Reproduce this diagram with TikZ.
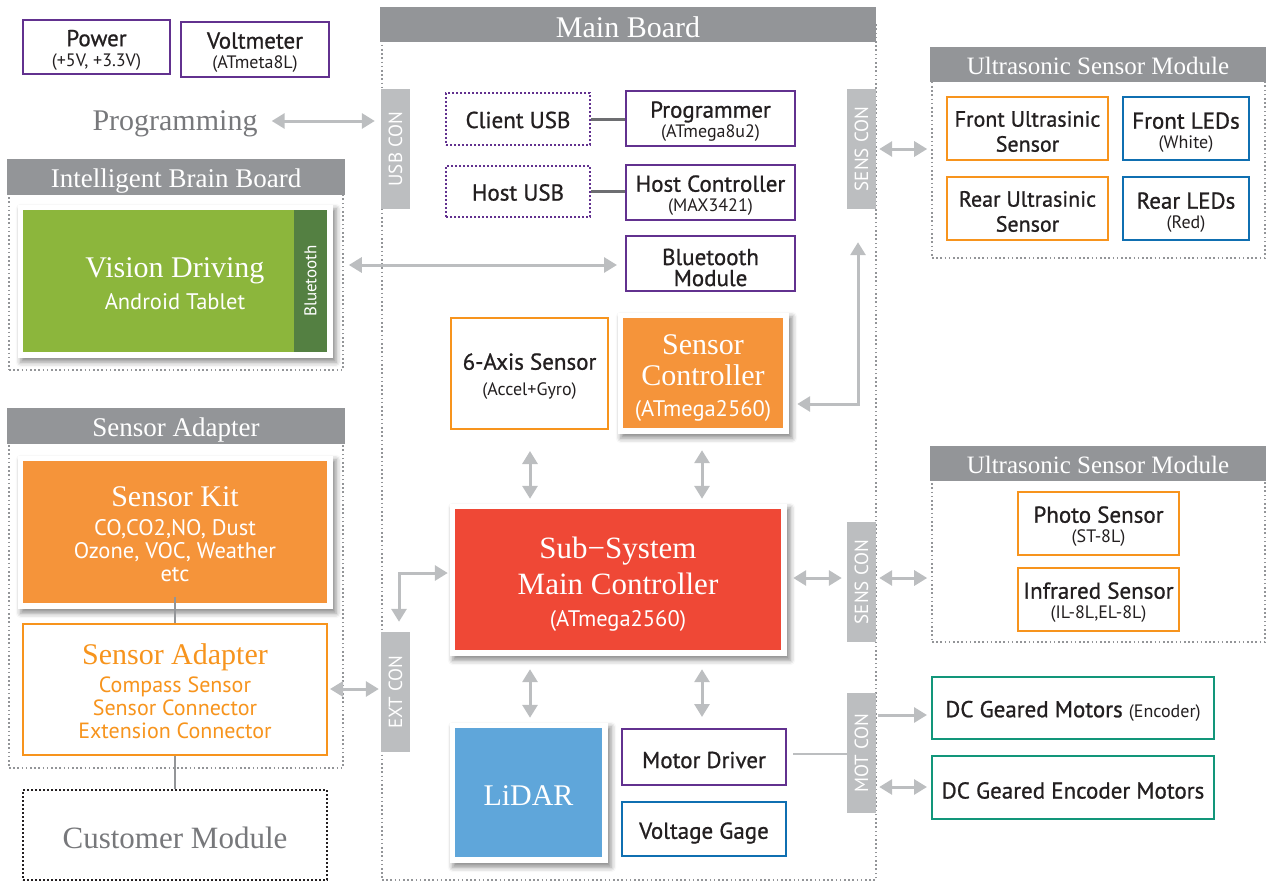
\documentclass[tikz,border=0pt]{standalone}
\usepackage{fontspec}
\setmainfont{Liberation Serif}
\newfontfamily\ssf{PT Sans}
\newfontfamily\ssfm[FakeBold=0.9]{PT Sans}
\usetikzlibrary{arrows.meta,shadows.blur,backgrounds}
\definecolor{hdr}{HTML}{939598}
\definecolor{bar}{HTML}{BCBEC0}
\definecolor{argr}{HTML}{BCBEC0}
\definecolor{pur}{HTML}{62318F}
\definecolor{org}{HTML}{F7941D}
\definecolor{orgfill}{HTML}{F5943A}
\definecolor{redfill}{HTML}{EF4836}
\definecolor{blu}{HTML}{0F6FB1}
\definecolor{lid}{HTML}{5FA6DA}
\definecolor{grn}{HTML}{12967A}
\definecolor{lgr}{HTML}{8CB63C}
\definecolor{dgr}{HTML}{548042}
\definecolor{txt}{HTML}{231F20}
\definecolor{dline}{HTML}{6D6E71}
\definecolor{greytxt}{HTML}{77787B}
\newcommand\smalltxt[1]{{\ssf\fontsize{18}{18}\selectfont #1}}
\newcommand\sansline[1]{{\ssf\fontsize{22.5}{22.5}\selectfont #1}}
% box with its text set a little lower than the geometric centre
\newcommand\bx[8]{%
  \node[#1,minimum width=#5pt,minimum height=#6pt] (#2) at (#3,#4) {};
  \node[txtn,#7] (#2t) at ([yshift=-3pt]#2.center) {#8};}
\tikzset{
  box/.style={rectangle,inner sep=0pt,line width=2pt,fill=white},
  txtn/.style={inner sep=0pt,align=center,text=txt,font=\ssfm\fontsize{23}{23}\selectfont},
  pbox/.style={box,draw=pur},
  obox/.style={box,draw=org},
  bbox/.style={box,draw=blu},
  gbox/.style={box,draw=grn},
  dpbox/.style={box,draw=pur,dash pattern=on 1.6pt off 2.4pt},
  hdrbox/.style={rectangle,fill=hdr,inner sep=0pt},
  hdrtxt/.style={txtn,text=white,font=\fontsize{27}{27}\selectfont},
  frm/.style={rectangle,inner sep=0pt,draw=hdr,line width=1.6pt,dash pattern=on 1.6pt off 2.6pt},
  conbar/.style={rectangle,fill=bar,inner sep=0pt,text=white,font=\ssf\fontsize{19}{19}\selectfont},
  fillbox/.style={rectangle,inner sep=0pt},
  wtxt/.style={txtn,text=white,font=\fontsize{30}{31}\selectfont},
  arr/.style={draw=argr,line width=3pt,{Triangle[width=15pt,length=13pt]}-{Triangle[width=15pt,length=13pt]}},
  sarr/.style={draw=argr,line width=3pt,-{Triangle[width=15pt,length=13pt]}},
  card/.style={fill=white,blur shadow={shadow xshift=3pt,shadow yshift=-4pt,shadow blur radius=5pt,shadow opacity=45}}
}
\begin{document}
\begin{tikzpicture}[x=1pt,y=-1pt]
\useasboundingbox (0,0) rectangle (1274,883);

% ---------- top-left ----------
\bx{pbox}{pwr}{96.5}{47}{147}{54}{}{Power\\[-3pt]\smalltxt{(+5V, +3.3V)}}
\bx{pbox}{volt}{255}{49.5}{148}{55}{}{Voltmeter\\[-3pt]\smalltxt{(ATmeta8L)}}
\node[text=greytxt,font=\fontsize{30}{30}\selectfont,inner sep=0pt] (prog) at (175,124) {Programming};

% ---------- Intelligent Brain Board ----------
\node[frm,minimum width=334pt,minimum height=185pt] (ibb) at (176,277.5) {};
\bx{hdrbox}{ibbh}{176}{177}{338}{36}{hdrtxt,yshift=-1pt}{Intelligent Brain Board}
\bx{fillbox,fill=lgr}{vd}{175}{281}{304}{142}{wtxt,font=\fontsize{30}{32}\selectfont}{Vision Driving\\\sansline{Android Tablet}}
\node[fillbox,fill=dgr,minimum width=33pt,minimum height=142pt] (bt) at (310.5,281) {};
\node[rotate=90,text=white,font=\ssf\fontsize{17}{17}\selectfont,inner sep=0pt] (btt) at (bt.center) {Bluetooth};

% ---------- Sensor Adapter ----------
\node[frm,minimum width=334pt,minimum height=342pt] (safr) at (176,597) {};
\bx{hdrbox}{sah}{176}{426}{338}{36}{hdrtxt,yshift=-1pt}{Sensor Adapter}
\bx{fillbox,fill=orgfill}{kit}{175}{532}{304}{142}{wtxt,font=\ssf\fontsize{22.5}{23}\selectfont,yshift=1pt}
  {{\rmfamily\fontsize{30}{30}\selectfont Sensor Kit}\\[6pt]CO,CO2,NO, Dust\\Ozone, VOC, Weather\\etc}
\bx{obox}{adp}{175}{689.5}{304}{131}{text=org,font=\ssf\fontsize{22}{23}\selectfont,yshift=1pt}
  {{\rmfamily\fontsize{30}{30}\selectfont Sensor Adapter}\\[5pt]Compass Sensor\\Sensor Connector\\Extension Connector}
\bx{box,draw=txt,dash pattern=on 1.6pt off 2.4pt}{cust}{175}{835}{304}{90}{text=greytxt,font=\fontsize{31}{31}\selectfont}{Customer Module}

% ---------- Main Board ----------
\node[frm,minimum width=494pt,minimum height=856pt] (mb) at (629,452) {};
\bx{hdrbox}{mbh}{628}{24.5}{496}{35}{hdrtxt,font=\fontsize{30}{30}\selectfont}{Main Board}

\node[conbar,minimum width=29pt,minimum height=120pt] (usbcon) at (395.5,149) {};
\node[rotate=90,conbar,fill=none] (usbcont) at (usbcon.center) {USB CON};
\node[conbar,minimum width=29pt,minimum height=120pt] (senscon1) at (861.5,149) {};
\node[rotate=90,conbar,fill=none] (senscon1t) at (senscon1.center) {SENS CON};
\node[conbar,minimum width=29pt,minimum height=120pt] (senscon2) at (861.5,582) {};
\node[rotate=90,conbar,fill=none] (senscon2t) at (senscon2.center) {SENS CON};
\node[conbar,minimum width=29pt,minimum height=120pt] (extcon) at (395.5,692) {};
\node[rotate=90,conbar,fill=none] (extcont) at (extcon.center) {EXT CON};
\node[conbar,minimum width=29pt,minimum height=120pt] (motcon) at (861.5,753) {};
\node[rotate=90,conbar,fill=none] (motcont) at (motcon.center) {MOT CON};

\bx{dpbox}{cusb}{518}{119}{144}{52}{yshift=2pt}{Client USB}
\bx{dpbox}{husb}{518}{191.5}{144}{51}{yshift=2pt}{Host USB}
\bx{pbox}{progr}{710.5}{118.5}{169}{55}{}{Programmer\\[-3pt]\smalltxt{(ATmega8u2)}}
\bx{pbox}{hostc}{710.5}{192.5}{169}{55}{}{Host Controller\\[-3pt]\smalltxt{(MAX3421)}}
\bx{pbox}{btm}{710.5}{263.5}{169}{55}{font=\ssfm\fontsize{23}{21}\selectfont,yshift=-1pt}{Bluetooth\\Module}

\bx{obox}{axis}{529.5}{373.5}{157}{111}{}{6-Axis Sensor\\[3pt]\smalltxt{(Accel+Gyro)}}
\bx{fillbox,fill=orgfill}{sctl}{703}{373}{160}{110}{wtxt,yshift=-2pt}{Sensor\\Controller\\[0pt]\sansline{(ATmega2560)}}
\bx{fillbox,fill=redfill}{main}{618}{579.5}{326}{141}{wtxt,font=\fontsize{31}{36}\selectfont,yshift=-2pt}{Sub−System\\Main Controller\\[-4pt]\sansline{(ATmega2560)}}
\bx{fillbox,fill=lid}{lidar}{528.5}{792.5}{147}{129}{wtxt}{LiDAR}
\bx{pbox}{motd}{704}{757}{164}{56}{}{Motor Driver}
\bx{bbox}{volg}{704}{829}{164}{54}{yshift=-1pt}{Voltage Gage}

% ---------- Ultrasonic module 1 ----------
\node[frm,minimum width=333pt,minimum height=194pt] (us1) at (1098.5,161) {};
\bx{hdrbox}{us1h}{1098}{64.5}{336}{35}{hdrtxt,font=\fontsize{25}{25}\selectfont,yshift=2pt}{Ultrasonic Sensor Module}
\bx{obox}{fus}{1027.5}{128.5}{161}{63}{font=\ssfm\fontsize{22}{25}\selectfont}{Front Ultrasinic\\Sensor}
\bx{bbox}{fled}{1186}{128.5}{126}{63}{yshift=-1pt}{Front LEDs\\[-3pt]\smalltxt{(White)}}
\bx{obox}{rus}{1027.5}{208.5}{161}{63}{font=\ssfm\fontsize{22}{25}\selectfont}{Rear Ultrasinic\\Sensor}
\bx{bbox}{rled}{1186}{208.5}{126}{63}{yshift=-1pt}{Rear LEDs\\[-3pt]\smalltxt{(Red)}}

% ---------- Ultrasonic module 2 ----------
\node[frm,minimum width=333pt,minimum height=179pt] (us2) at (1098.5,552.5) {};
\bx{hdrbox}{us2h}{1098}{463.5}{336}{35}{hdrtxt,font=\fontsize{25}{25}\selectfont,yshift=2pt}{Ultrasonic Sensor Module}
\bx{obox}{photo}{1098.5}{523.5}{161}{63}{}{Photo Sensor\\[-3pt]\smalltxt{(ST-8L)}}
\bx{obox}{ir}{1098.5}{599.5}{161}{63}{}{Infrared Sensor\\[-3pt]\smalltxt{(IL-8L,EL-8L)}}

% ---------- Motors ----------
\bx{gbox}{dc1}{1073}{708}{282}{62}{}{DC Geared Motors \smalltxt{(Encoder)}}
\bx{gbox}{dc2}{1073}{787.5}{282}{63}{}{DC Geared Encoder Motors}

% ---------- shadow cards ----------
\begin{scope}[on background layer]
\foreach \n in {vd,kit,sctl,main,lidar}{
  \fill[card] ([shift={(-5,-5)}]\n.north west) rectangle ([shift={(6,6)}]\n.south east);
}
\end{scope}

% ---------- connectors ----------
\draw[arr,shorten <=14pt,shorten >=6pt] (prog.east |- 0,121) -- (usbcon.west |- 0,121);
\draw[arr,shorten <=5pt,shorten >=8pt] (ibb.east |- 0,265) -- (btm.west |- 0,265);
\draw[dline,line width=3pt] (cusb.east) -- (progr.west |- cusb.east);
\draw[dline,line width=3pt] (husb.east) -- (hostc.west |- husb.east);
\draw[arr,shorten <=33pt,shorten >=14pt] (senscon1.south -| 858,0) |- (sctl.east |- 0,404);
\draw[arr,shorten <=3pt,shorten >=4pt] (senscon1.east |- 0,149) -- (us1.west |- 0,149);
\draw[arr,shorten <=21pt,shorten >=10pt] (axis.south -| 530,0) -- (main.north -| 530,0);
\draw[arr,shorten <=22pt,shorten >=10pt] (sctl.south -| 702,0) -- (main.north -| 702,0);
\draw[arr,shorten <=19pt,shorten >=10pt] (main.south -| 530,0) -- (lidar.north -| 530,0);
\draw[arr,shorten <=19pt,shorten >=11pt] (main.south -| 702,0) -- (motd.north -| 702,0);
\draw[arr,shorten <=10pt,shorten >=7pt] (extcon.north -| 399,0) |- (main.west |- 0,573);
\draw[arr,shorten <=12pt,shorten >=5pt] (main.east |- 0,578) -- (senscon2.west |- 0,578);
\draw[arr,shorten <=3pt,shorten >=4pt] (senscon2.east |- 0,578) -- (us2.west |- 0,578);
\draw[arr,shorten <=2pt,shorten >=2pt] (adp.east |- 0,689) -- (extcon.west |- 0,689);
\draw[argr,line width=2.5pt,shorten <=6pt] (motd.east |- 0,754) -- (motcon.west |- 0,754);
\draw[sarr,shorten <=2pt,shorten >=4pt] (motcon.east |- 0,715) -- (dc1.west |- 0,715);
\draw[arr,shorten <=3pt,shorten >=4pt] (motcon.east |- 0,787) -- (dc2.west |- 0,787);
\draw[hdr,line width=2pt] ([yshift=6pt]kit.south) -- (adp.north);
\draw[hdr,line width=2pt] (adp.south) -- (cust.north);
\end{tikzpicture}
\end{document}
